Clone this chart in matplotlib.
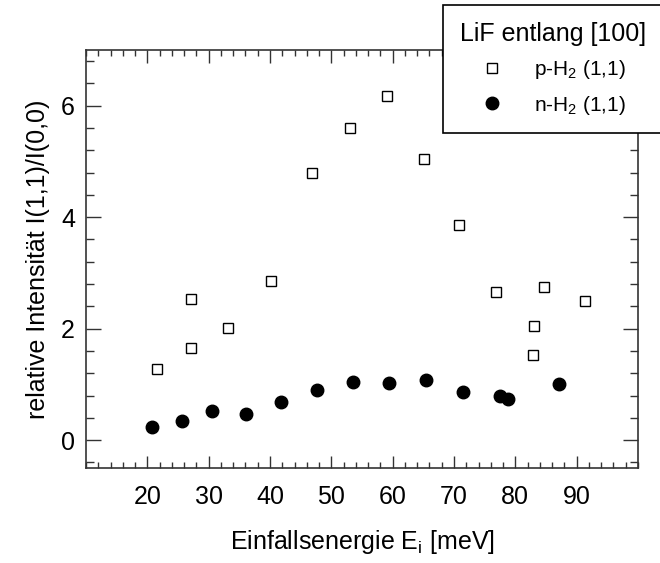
import numpy as np
import matplotlib
matplotlib.use("Agg")
from matplotlib import pyplot as plt
from matplotlib.ticker import MultipleLocator

plt.rcParams['font.family'] = ['Liberation Sans', 'DejaVu Sans']
plt.rcParams['mathtext.fontset'] = 'custom'
plt.rcParams['mathtext.rm'] = 'Liberation Sans'
plt.rcParams['mathtext.it'] = 'Liberation Sans'

# p-H2 (1,1), open squares
p_energy = [21.5, 27.1, 27.1, 33.2, 40.1, 46.9, 53.1, 59.1, 65.1, 70.8, 76.9, 83.0, 82.9, 84.7, 91.4]
p_ratio = [1.28, 1.66, 2.53, 2.01, 2.86, 4.80, 5.60, 6.17, 5.04, 3.86, 2.65, 2.04, 1.53, 2.75, 2.50]

# n-H2 (1,1), filled circles
n_energy = [20.8, 25.7, 30.6, 36.1, 41.8, 47.7, 53.6, 59.4, 65.5, 71.4, 77.5, 78.8, 87.2]
n_ratio = [0.24, 0.34, 0.52, 0.46, 0.68, 0.90, 1.05, 1.02, 1.07, 0.86, 0.80, 0.73, 1.00]

xticks = [20, 30, 40, 50, 60, 70, 80, 90]
yticks = [0, 2, 4, 6]

fig = plt.figure(figsize=(6.6, 5.63), dpi=100)
ax = fig.add_axes([86/660, 1-468/563, (638-86)/660, (468-50)/563])

ax.plot(p_energy, p_ratio, ls='none', marker='s', ms=7, mfc='white', mec='black', mew=1.0,
        label=r'p-H$_2$ (1,1)')
ax.plot(n_energy, n_ratio, ls='none', marker='o', ms=9, mfc='black', mec='black',
        label=r'n-H$_2$ (1,1)')

ax.set_xlim(10, 100)
ax.set_ylim(-0.5, 7.0)
ax.set_xticks(xticks)
ax.set_yticks(yticks)
ax.xaxis.set_minor_locator(MultipleLocator(2))
ax.yaxis.set_minor_locator(MultipleLocator(0.4))
ax.tick_params(which='both', direction='in', top=True, right=True, labelsize=18, width=1.0, color='#333333')
ax.tick_params(axis='x', which='major', length=9, pad=12)
ax.tick_params(axis='x', which='minor', length=4.5)
ax.tick_params(axis='y', which='major', length=11, pad=8)
ax.tick_params(axis='y', which='minor', length=5.5)
for s in ax.spines.values():
    s.set_linewidth(1.2)
    s.set_color('#333333')

ax.set_xlabel(r'Einfallsenergie E$_\mathrm{i}$ [meV]', fontsize=18, labelpad=14)
ax.set_ylabel('relative Intensität I(1,1)/I(0,0)', fontsize=18, labelpad=8)

leg = ax.legend(loc='upper left', bbox_to_anchor=(443/660, 1-5/563), bbox_transform=fig.transFigure,
                borderaxespad=0, title='LiF entlang [100]', title_fontsize=18, fontsize=15,
                fancybox=False, framealpha=1, edgecolor='black', handlelength=1.2,
                handletextpad=1.4, labelspacing=0.6, borderpad=0.8)
leg.get_frame().set_linewidth(1.2)

fig.savefig('out.png', dpi=100)
